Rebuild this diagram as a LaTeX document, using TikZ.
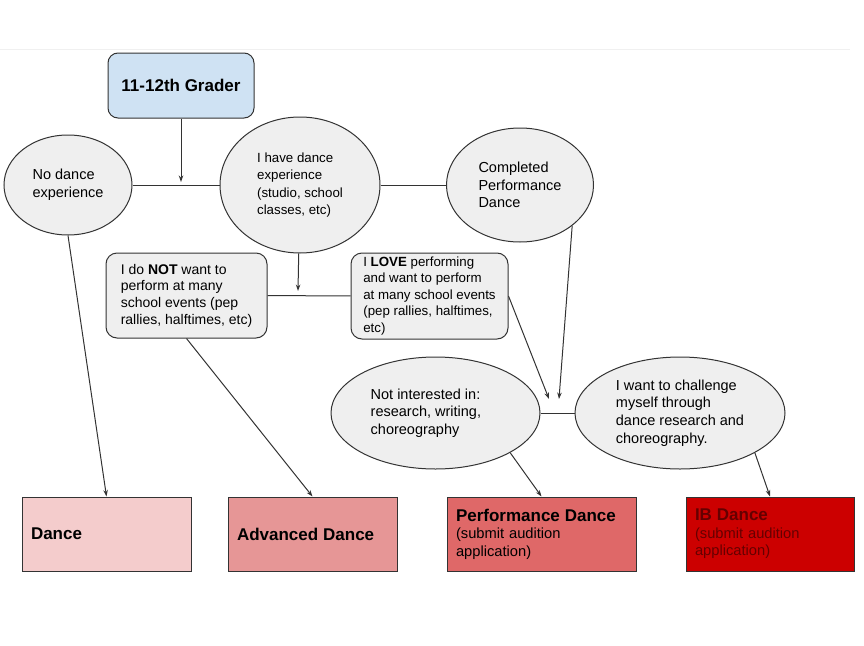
\documentclass[tikz,border=0pt]{standalone}
\usepackage{fontspec}
\setmainfont{Liberation Sans}
\usepackage{xcolor}
\usepackage{tikz}
\usetikzlibrary{shapes,arrows.meta}

\definecolor{gradeblue}{HTML}{CFE2F3}
\definecolor{bubblegray}{HTML}{EFEFEF}
\definecolor{edgegray}{HTML}{333333}
\definecolor{redA}{HTML}{F4CCCC}
\definecolor{redB}{HTML}{E69696}
\definecolor{redC}{HTML}{DF6868}
\definecolor{redD}{HTML}{CC0000}
\definecolor{ibtext}{HTML}{650000}

\begin{document}
\begin{tikzpicture}[x=1pt, y=-1pt, >={Stealth[length=6.5pt,width=4.5pt]},
  bubble/.style={ellipse, draw=edgegray, line width=1pt, fill=bubblegray, inner sep=0pt, align=left, font=\fontsize{14.5}{17.7}\selectfont},
  choice/.style={rectangle, rounded corners=11pt, draw=edgegray, line width=1pt, fill=bubblegray, inner sep=0pt, align=left, font=\fontsize{14}{16.7}\selectfont},
  course/.style={rectangle, draw=edgegray, line width=1pt, inner xsep=9pt, inner ysep=0pt, minimum height=74pt, align=left, font=\fontsize{14.7}{17.5}\selectfont},
  link/.style={draw=edgegray, line width=1pt}]
\useasboundingbox (0,0) rectangle (864,645);
\draw [gray!12] (0,49) -- (850,49);

\node [rectangle, rounded corners=10pt, draw=edgegray, line width=1pt, fill=gradeblue, minimum width=146pt, minimum height=65pt, font=\fontsize{17}{20}\selectfont\bfseries] (grader) at (181,85.5) {11-12th Grader};

\node [bubble, minimum width=128pt, minimum height=100pt] (nodance) at (68,185) {No dance\\experience};
\node [bubble, minimum width=160pt, minimum height=136pt, font=\fontsize{13.3}{17.3}\selectfont] (havedance) at (300,185) {I have dance\\experience\\(studio, school\\classes, etc)};
\node [bubble, minimum width=147pt, minimum height=114pt] (perfdone) at (520,185) {Completed\\Performance\\Dance};

\node [choice, minimum width=161pt, minimum height=85pt] (notbox) at (186.5,295.5) {I do \textbf{NOT} want to\\perform at many\\school events (pep\\rallies, halftimes, etc)};
\node [choice, minimum width=157pt, minimum height=86pt, font=\fontsize{13.3}{16.5}\selectfont] (lovebox) at (429.5,296) {I \textbf{LOVE} performing\\and want to perform\\at many school events\\(pep rallies, halftimes,\\etc)};

\node [bubble, minimum width=209pt, minimum height=112pt] (noint) at (435.5,413) {Not interested in:\hspace*{20pt}\\research, writing,\\choreography};
\node [bubble, minimum width=210pt, minimum height=112pt] (chal) at (680,413) {I want to challenge\\myself through\\dance research and\\choreography.};

\node [course, fill=redA, text width=151pt] (dance) at (106.5,534) {{\fontsize{17}{20}\selectfont\bfseries Dance}};
\node [course, fill=redB, text width=151pt] (advanced) at (312.5,534) {{\fontsize{17}{20}\selectfont\bfseries Advanced Dance}};
\node [course, fill=redC, text width=171pt] (perf) at (541.5,534) {{\fontsize{17}{20}\selectfont\bfseries Performance Dance}\\(submit audition\\application)};
\node [course, fill=redD, text width=150pt, text=ibtext] (ib) at (770,534) {{\fontsize{17}{20}\selectfont\bfseries IB Dance}\\(submit audition\\application)};

\coordinate (j1) at (181,182);
\coordinate (j2) at (298,291);
\coordinate (j3) at (549,399);
\coordinate (j4) at (559,399);

% joining lines
\draw [link] (nodance) -- (havedance);
\draw [link] (havedance) -- (perfdone);
\draw [link] (notbox) -- (lovebox);
\draw [link] (noint) -- (chal);

% arrows
\draw [link, ->] (grader) -- (j1);
\draw [link, ->] (havedance) -- (j2);
\draw [link, ->] (lovebox.east) -- (j3);
\draw [link, ->] (perfdone.-38) -- (j4);
\draw [link, ->] (nodance.south) -- (dance.north);
\draw [link, ->] (notbox.south) -- (advanced.north);
\draw [link, ->] (noint.-28) -- (perf.north);
\draw [link, ->] (chal.-28) -- (ib.north);
\end{tikzpicture}
\end{document}
